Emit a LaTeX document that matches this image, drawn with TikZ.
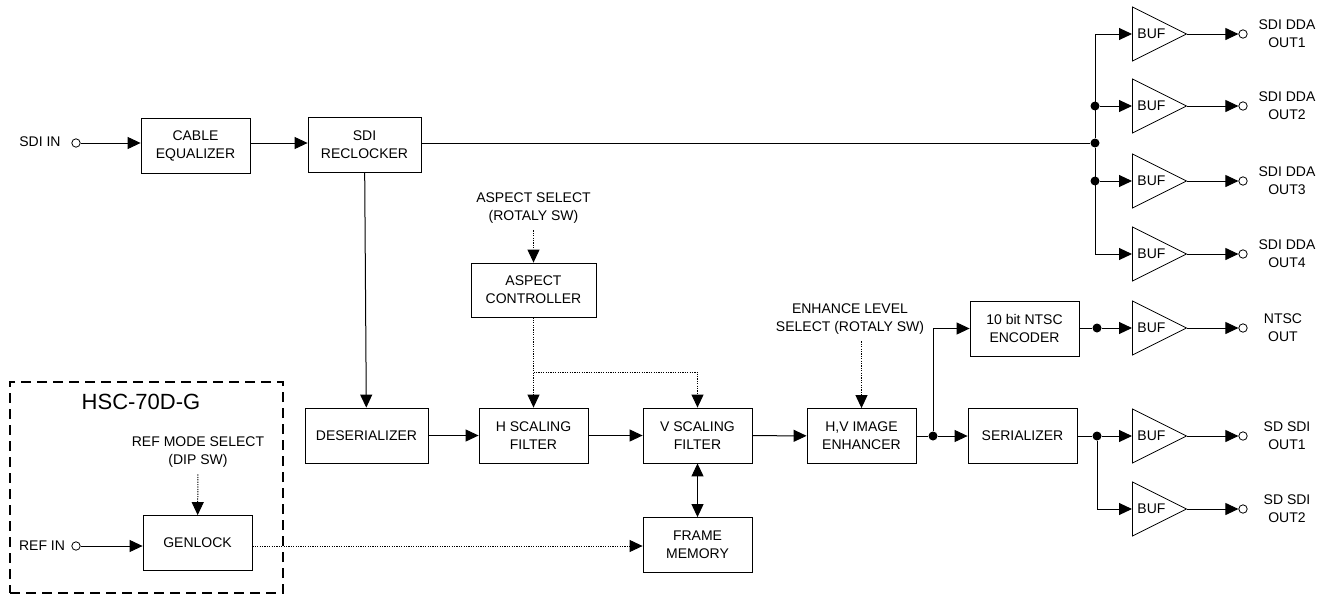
\documentclass[tikz,border=0pt]{standalone}
\usepackage{fontspec}
\setmainfont{Liberation Sans}
\usepackage{tikz}
\usetikzlibrary{arrows.meta,positioning,shapes.geometric}

\begin{document}
\begin{tikzpicture}[
      x=0.5pt, y=-0.5pt,
      every node/.style={font=\fontsize{7}{9}\selectfont},
      box/.style={draw, align=center, inner sep=2pt, minimum width=54.5pt, minimum height=27.5pt},
      buf/.style={draw, isosceles triangle, isosceles triangle stretches, minimum width=27pt, minimum height=27pt, inner sep=0pt, anchor=lower side},
      port/.style={draw, circle, fill=white, inner sep=0pt, minimum size=4.2pt},
      dot/.style={circle, fill, inner sep=0pt, minimum size=4.5pt},
      lbl/.style={align=center},
      arr/.style={-{Triangle[length=6.5pt, width=6pt]}, line width=0.5pt},
      arrb/.style={{Triangle[length=6.5pt, width=6pt]}-{Triangle[length=6.5pt, width=6pt]}, line width=0.5pt},
      dotarr/.style={arr, dash pattern=on 0.6pt off 0.6pt},
    ]
    \useasboundingbox (0,0) rectangle (1328,595);
    % main blocks
    \node[box] (cable) at (195.5,145.5) {CABLE\\EQUALIZER};
    \node[box, minimum width=56.5pt] (recl) at (364.5,145) {SDI\\RECLOCKER};
    \node[box, minimum width=61.5pt] (deser) at (366.5,435.5) {DESERIALIZER};
    \node[box] (hscal) at (533.5,435.5) {H SCALING\\FILTER};
    \node[box] (vscal) at (697.5,435.5) {V SCALING\\FILTER};
    \node[box] (fmem) at (697.5,545) {FRAME\\MEMORY};
    \node[box] (enh) at (861.5,436) {H,V IMAGE\\ENHANCER};
    \node[box] (ntsc) at (1024.5,328.5) {10 bit NTSC\\ENCODER};
    \node[box] (ser) at (1022.5,436) {SERIALIZER};
    \node[box, minimum width=62.5pt, minimum height=27pt] (aspc) at (533.5,290) {ASPECT\\CONTROLLER};
    \node[box] (genlock) at (197.5,543) {GENLOCK};
    % option board
    \node[draw, dashed, dash pattern=on 5pt off 3pt, line width=0.6pt, minimum width=136.5pt, minimum height=105.5pt, inner sep=0pt] (hsc) at (146.5,487.5) {};
    \node[font=\fontsize{11}{13}\selectfont] (hsctitle) at (141,402) {HSC-70D-G};
    % select labels
    \node[lbl] (aspsel) at (533.5,208) {ASPECT SELECT\\(ROTALY SW)};
    \node[lbl] (enhsel) at (850,319) {ENHANCE LEVEL\\SELECT (ROTALY SW)};
    \node[lbl] (refsel) at (198,452) {REF MODE SELECT\\(DIP SW)};
    % inputs
    \node (sdiin) at (40,142) {SDI IN};
    \node[port] (sdiport) at (76,143) {};
    \node (refin) at (42,546) {REF IN};
    \node[port] (refport) at (76,546) {};
    % buffers
    \node[buf] (buf1) at (1132,34) {BUF};
    \node[buf] (buf2) at (1132,106) {BUF};
    \node[buf] (buf3) at (1132,181) {BUF};
    \node[buf] (buf4) at (1132,254) {BUF};
    \node[buf] (buf5) at (1132,328) {BUF};
    \node[buf] (buf6) at (1132,436) {BUF};
    \node[buf] (buf7) at (1132,509) {BUF};
    % outputs
    \node[port] (out1) at (1243,34) {};
    \node[port] (out2) at (1243,106) {};
    \node[port] (out3) at (1243,181) {};
    \node[port] (out4) at (1243,254) {};
    \node[port] (out5) at (1243,328) {};
    \node[port] (out6) at (1243,436) {};
    \node[port] (out7) at (1243,509) {};
    \node[lbl] (lout1) at (1287,34) {SDI DDA\\OUT1};
    \node[lbl] (lout2) at (1287,106) {SDI DDA\\OUT2};
    \node[lbl] (lout3) at (1287,181) {SDI DDA\\OUT3};
    \node[lbl] (lout4) at (1287,254) {SDI DDA\\OUT4};
    \node[lbl] (lout5) at (1283,328) {NTSC\\OUT};
    \node[lbl] (lout6) at (1287,436) {SD SDI\\OUT1};
    \node[lbl] (lout7) at (1287,509) {SD SDI\\OUT2};
    % junctions
    \node[dot] (j0) at (1095,143) {};
    \node[dot] (j2) at (1095,106) {};
    \node[dot] (j3) at (1095,181) {};
    \node[dot] (j5) at (1097,328) {};
    \node[dot] (j6) at (1097,436) {};
    \node[dot] (je) at (933,436) {};
    \coordinate (asbr) at (533.5,372);
    % signal path
    \draw[arr] (sdiport) -- (sdiport -| cable.west);
    \draw[arr] (cable.east |- sdiport) -- (recl.west |- sdiport);
    \draw[line width=0.5pt] (recl.east |- j0) -- (j0);
    \draw[arr] (recl) -- (deser);
    \draw[arr] (deser) -- (hscal);
    \draw[arr] (hscal) -- (vscal);
    \draw[arr] (vscal) -- (enh);
    \draw[arrb] (vscal) -- (fmem);
    \draw[line width=0.5pt] (enh) -- (je);
    \draw[arr] (je) -- (ser);
    \draw[arr] (je) |- (ntsc);
    % distribution
    \draw[arr] (j0) |- (buf1.lower side);
    \draw[arr] (j0) |- (buf4.lower side);
    \draw[arr] (j2) -- (buf2.lower side);
    \draw[arr] (j3) -- (buf3.lower side);
    \draw[line width=0.5pt] (ntsc.east |- j5) -- (j5);
    \draw[arr] (j5) -- (buf5.lower side);
    \draw[line width=0.5pt] (ser) -- (j6);
    \draw[arr] (j6) -- (buf6.lower side);
    \draw[arr] (j6) |- (buf7.lower side);
    \foreach \i in {1,...,7}
      \draw[arr] (buf\i.apex) -- (out\i);
    % control
    \draw[dotarr] (aspsel) -- (aspc);
    \draw[dotarr] (aspc) -- (hscal);
    \draw[dotarr] (asbr) -| (vscal);
    \draw[dotarr] (enhsel.south -| enh) -- (enh);
    \draw[dotarr] (refsel) -- (genlock);
    \draw[arr] (refport) -- (refport -| genlock.west);
    \draw[dotarr] (genlock.east |- refport) -- (fmem.west |- refport);
  \end{tikzpicture}
\end{document}
